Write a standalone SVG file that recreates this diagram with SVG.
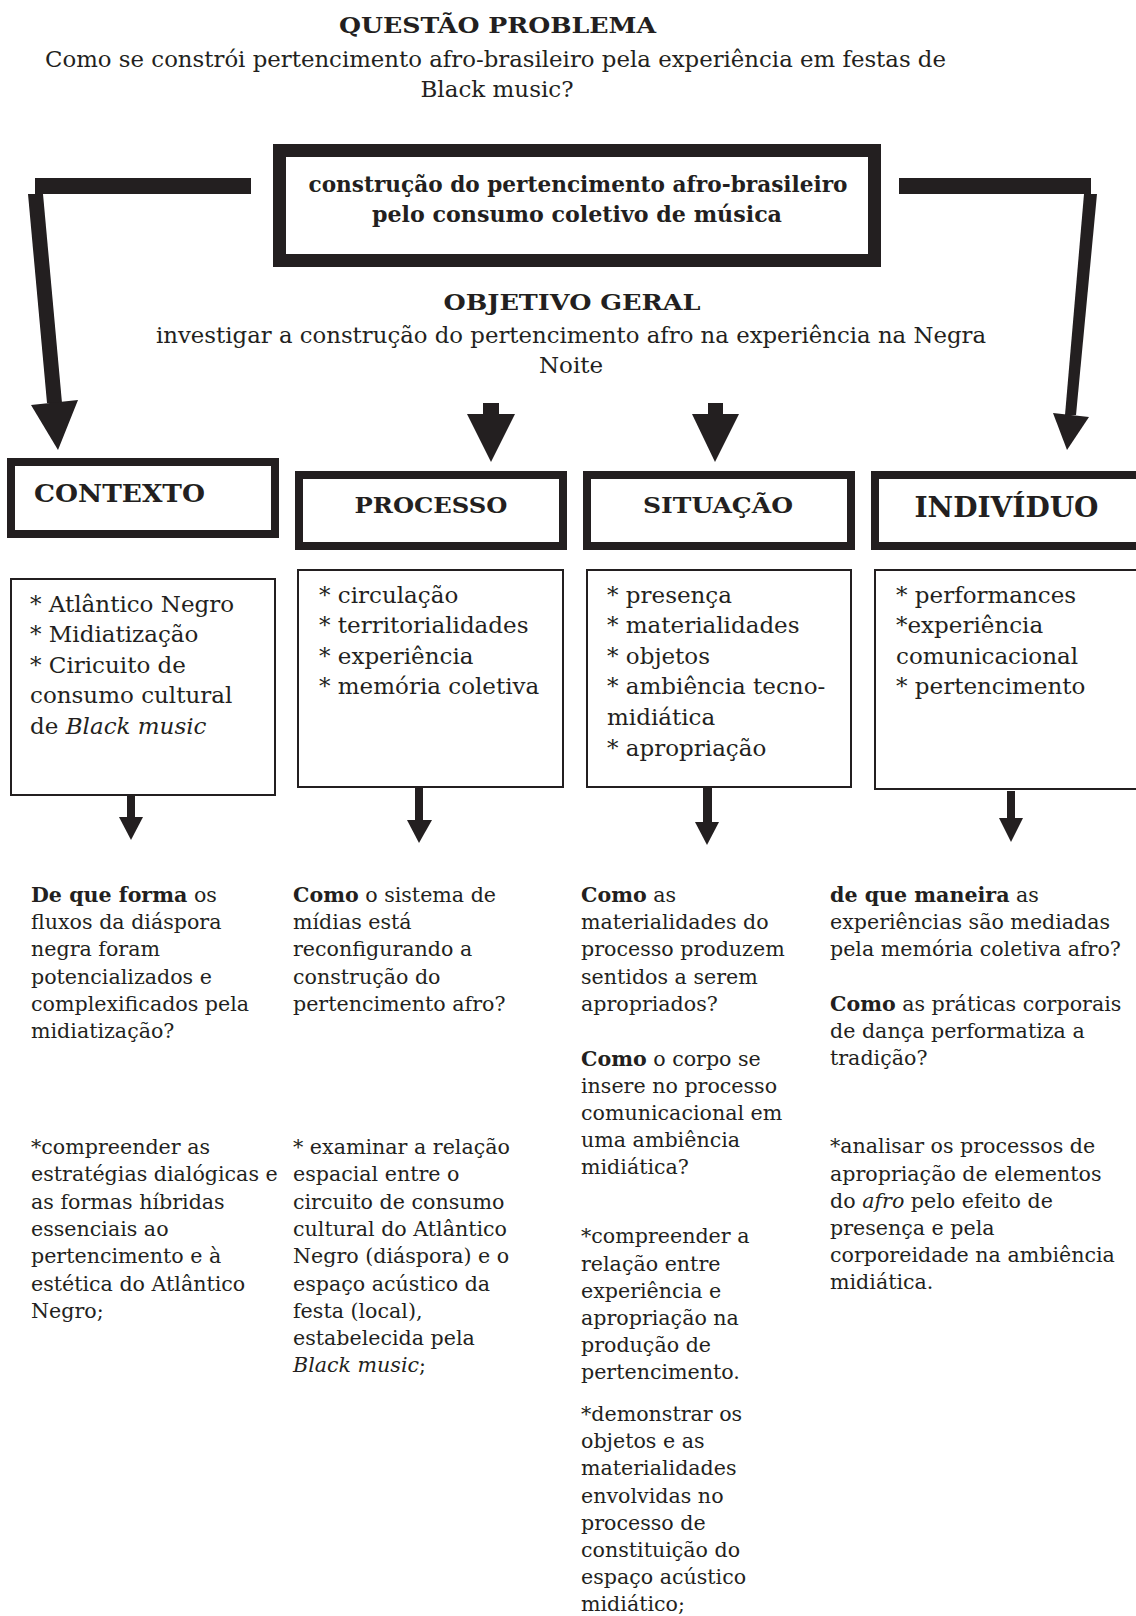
<svg xmlns="http://www.w3.org/2000/svg" width="1136" height="1616" viewBox="0 0 1136 1616">
<style>
text{font-family:"DejaVu Serif","Liberation Serif",serif;fill:#231f20}
.b{font-weight:bold}
.i{font-style:italic}
.body{font-size:20.6px}
.item{font-size:23px}
.thick{fill:#fff;stroke:#231f20;stroke-width:8}
.thin{fill:#fff;stroke:#231f20;stroke-width:2}
.ink{fill:#231f20;stroke:none}
</style>
<rect width="1136" height="1616" fill="#fff"/>

<g id="node-questao">
<text x="497.5" y="33" text-anchor="middle" class="b" font-size="23" textLength="317" lengthAdjust="spacingAndGlyphs">QUESTÃO PROBLEMA</text>
<text x="495.5" y="67" text-anchor="middle" font-size="23" textLength="901" lengthAdjust="spacingAndGlyphs">Como se constrói pertencimento afro-brasileiro pela experiência em festas de</text>
<text x="497" y="97" text-anchor="middle" font-size="23">Black music?</text>
</g>

<g id="node-central">
<rect x="279.5" y="150.5" width="595" height="110" fill="#fff" stroke="#231f20" stroke-width="13"/>
<text x="578" y="192" text-anchor="middle" class="b" font-size="22" textLength="539" lengthAdjust="spacingAndGlyphs">construção do pertencimento afro-brasileiro</text>
<text x="577" y="222" text-anchor="middle" class="b" font-size="22" textLength="410" lengthAdjust="spacingAndGlyphs">pelo consumo coletivo de música</text>
</g>

<g id="node-objetivo">
<text x="572" y="310" text-anchor="middle" class="b" font-size="23" textLength="257" lengthAdjust="spacingAndGlyphs">OBJETIVO GERAL</text>
<text x="571" y="343" text-anchor="middle" font-size="23" textLength="830" lengthAdjust="spacingAndGlyphs">investigar a construção do pertencimento afro na experiência na Negra</text>
<text x="571" y="373" text-anchor="middle" font-size="23">Noite</text>
</g>

<g id="connectors">
<rect class="ink" x="35" y="178" width="216" height="16"/>
<polygon class="ink" points="28,194 43,194 62,403 47,403"/>
<polygon class="ink" points="31,405 78,400 58,450"/>
<rect class="ink" x="899" y="178" width="192" height="16"/>
<polygon class="ink" points="1084,194 1097,194 1076,415 1065,415"/>
<polygon class="ink" points="1053,413 1089,417 1067,450"/>
<rect class="ink" x="483" y="403" width="16" height="12"/>
<polygon class="ink" points="467,414 515,414 491,462"/>
<rect class="ink" x="708" y="403" width="15" height="12"/>
<polygon class="ink" points="692,414 739,414 715,462"/>
<rect class="ink" x="127" y="791" width="8" height="27"/>
<polygon class="ink" points="119,817 143,817 131,840"/>
<rect class="ink" x="415" y="786" width="8" height="35"/>
<polygon class="ink" points="407,820 432,820 419,843"/>
<rect class="ink" x="703" y="786" width="9" height="37"/>
<polygon class="ink" points="695,822 719,822 707,845"/>
<rect class="ink" x="1007" y="791" width="8" height="28"/>
<polygon class="ink" points="999,818 1023,818 1011,842"/>
</g>

<g id="node-contexto">
<rect class="thick" x="11" y="462" width="264" height="72"/>
<text x="34" y="502" class="b" font-size="24" textLength="171" lengthAdjust="spacingAndGlyphs">CONTEXTO</text>
</g>
<g id="node-processo">
<rect class="thick" x="299" y="475" width="264" height="71"/>
<text x="431" y="513" text-anchor="middle" class="b" font-size="23" textLength="153" lengthAdjust="spacingAndGlyphs">PROCESSO</text>
</g>
<g id="node-situacao">
<rect class="thick" x="587" y="475" width="264" height="71"/>
<text x="718" y="513" text-anchor="middle" class="b" font-size="23" textLength="150" lengthAdjust="spacingAndGlyphs">SITUAÇÃO</text>
</g>
<g id="node-individuo">
<rect class="thick" x="875" y="475" width="275" height="71"/>
<text x="1006.5" y="517" text-anchor="middle" class="b" font-size="27" textLength="184" lengthAdjust="spacingAndGlyphs">INDIVÍDUO</text>
</g>

<g id="node-contexto-itens">
<rect class="thin" x="11" y="579" width="264" height="216"/>
<text class="item">
<tspan x="30" y="612">* Atlântico Negro</tspan>
<tspan x="30" y="642">* Midiatização</tspan>
<tspan x="30" y="673">* Ciricuito de</tspan>
<tspan x="30" y="703">consumo cultural</tspan>
<tspan x="30" y="734">de <tspan class="i">Black music</tspan></tspan>
</text>
</g>
<g id="node-processo-itens">
<rect class="thin" x="298" y="570" width="265" height="217"/>
<text class="item">
<tspan x="319" y="603">* circulação</tspan>
<tspan x="319" y="633">* territorialidades</tspan>
<tspan x="319" y="664">* experiência</tspan>
<tspan x="319" y="694">* memória coletiva</tspan>
</text>
</g>
<g id="node-situacao-itens">
<rect class="thin" x="587" y="570" width="264" height="217"/>
<text class="item">
<tspan x="607" y="603">* presença</tspan>
<tspan x="607" y="633">* materialidades</tspan>
<tspan x="607" y="664">* objetos</tspan>
<tspan x="607" y="694">* ambiência tecno-</tspan>
<tspan x="607" y="725">midiática</tspan>
<tspan x="607" y="756">* apropriação</tspan>
</text>
</g>
<g id="node-individuo-itens">
<rect class="thin" x="875" y="570" width="275" height="219"/>
<text class="item">
<tspan x="896" y="603">* performances</tspan>
<tspan x="896" y="633">*experiência</tspan>
<tspan x="896" y="664">comunicacional</tspan>
<tspan x="896" y="694">* pertencimento</tspan>
</text>
</g>

<g id="node-contexto-texto">
<text class="body">
<tspan x="31" y="902"><tspan class="b">De que forma</tspan> os</tspan>
<tspan x="31" y="929">fluxos da diáspora</tspan>
<tspan x="31" y="956">negra foram</tspan>
<tspan x="31" y="983.5">potencializados e</tspan>
<tspan x="31" y="1010.5">complexificados pela</tspan>
<tspan x="31" y="1038">midiatização?</tspan>
</text>
<text class="body">
<tspan x="31" y="1154">*compreender as</tspan>
<tspan x="31" y="1181">estratégias dialógicas e</tspan>
<tspan x="31" y="1208.5">as formas híbridas</tspan>
<tspan x="31" y="1236">essenciais ao</tspan>
<tspan x="31" y="1263">pertencimento e à</tspan>
<tspan x="31" y="1290.5">estética do Atlântico</tspan>
<tspan x="31" y="1317.5">Negro;</tspan>
</text>
</g>
<g id="node-processo-texto">
<text class="body">
<tspan x="293" y="902"><tspan class="b">Como</tspan> o sistema de</tspan>
<tspan x="293" y="929">mídias está</tspan>
<tspan x="293" y="956">reconfigurando a</tspan>
<tspan x="293" y="983.5">construção do</tspan>
<tspan x="293" y="1010.5">pertencimento afro?</tspan>
</text>
<text class="body">
<tspan x="293" y="1154">* examinar a relação</tspan>
<tspan x="293" y="1181">espacial entre o</tspan>
<tspan x="293" y="1208.5">circuito de consumo</tspan>
<tspan x="293" y="1236">cultural do Atlântico</tspan>
<tspan x="293" y="1263">Negro (diáspora) e o</tspan>
<tspan x="293" y="1290.5">espaço acústico da</tspan>
<tspan x="293" y="1317.5">festa (local),</tspan>
<tspan x="293" y="1344.5">estabelecida pela</tspan>
<tspan x="293" y="1371.5"><tspan class="i">Black music</tspan>;</tspan>
</text>
</g>
<g id="node-situacao-texto">
<text class="body">
<tspan x="581" y="902"><tspan class="b">Como</tspan> as</tspan>
<tspan x="581" y="929">materialidades do</tspan>
<tspan x="581" y="956">processo produzem</tspan>
<tspan x="581" y="983.5">sentidos a serem</tspan>
<tspan x="581" y="1010.5">apropriados?</tspan>
</text>
<text class="body">
<tspan x="581" y="1066"><tspan class="b">Como</tspan> o corpo se</tspan>
<tspan x="581" y="1093">insere no processo</tspan>
<tspan x="581" y="1120">comunicacional em</tspan>
<tspan x="581" y="1147">uma ambiência</tspan>
<tspan x="581" y="1173.5">midiática?</tspan>
</text>
<text class="body">
<tspan x="581" y="1243">*compreender a</tspan>
<tspan x="581" y="1270.5">relação entre</tspan>
<tspan x="581" y="1298">experiência e</tspan>
<tspan x="581" y="1325">apropriação na</tspan>
<tspan x="581" y="1352">produção de</tspan>
<tspan x="581" y="1379">pertencimento.</tspan>
</text>
<text class="body">
<tspan x="581" y="1421">*demonstrar os</tspan>
<tspan x="581" y="1448">objetos e as</tspan>
<tspan x="581" y="1475">materialidades</tspan>
<tspan x="581" y="1502.5">envolvidas no</tspan>
<tspan x="581" y="1530">processo de</tspan>
<tspan x="581" y="1557">constituição do</tspan>
<tspan x="581" y="1584">espaço acústico</tspan>
<tspan x="581" y="1610.5">midiático;</tspan>
</text>
</g>
<g id="node-individuo-texto">
<text class="body">
<tspan x="830" y="902"><tspan class="b">de que maneira</tspan> as</tspan>
<tspan x="830" y="929">experiências são mediadas</tspan>
<tspan x="830" y="956">pela memória coletiva afro?</tspan>
</text>
<text class="body">
<tspan x="830" y="1010.5"><tspan class="b">Como</tspan> as práticas corporais</tspan>
<tspan x="830" y="1038">de dança performatiza a</tspan>
<tspan x="830" y="1065">tradição?</tspan>
</text>
<text class="body">
<tspan x="830" y="1153">*analisar os processos de</tspan>
<tspan x="830" y="1180.5">apropriação de elementos</tspan>
<tspan x="830" y="1207.5">do <tspan class="i">afro</tspan> pelo efeito de</tspan>
<tspan x="830" y="1235">presença e pela</tspan>
<tspan x="830" y="1262">corporeidade na ambiência</tspan>
<tspan x="830" y="1289">midiática.</tspan>
</text>
</g>
</svg>
